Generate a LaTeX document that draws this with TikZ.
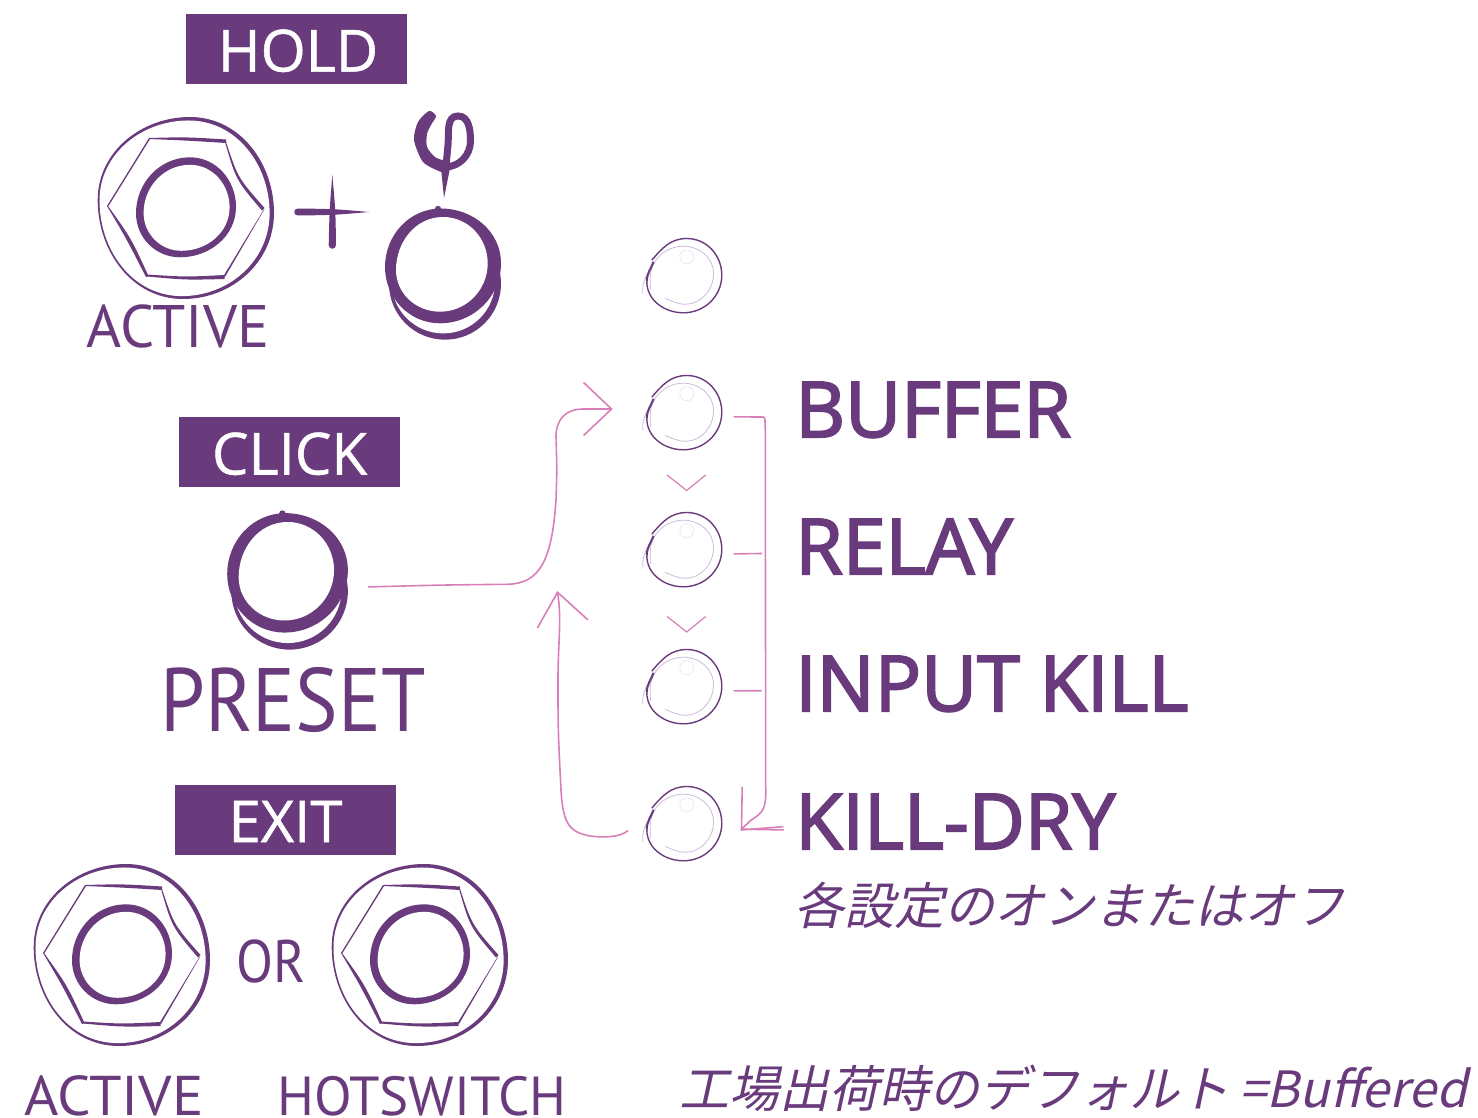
\documentclass[tikz,border=0pt]{standalone}
\usepackage{fontspec}
\setmainfont{Open Sans}
\newfontfamily\titlefont[FakeBold=0.9]{Open Sans}
\newfontfamily\labelfont[FakeBold=2.6]{Open Sans}
\newfontfamily\cjkfont[FakeSlant=0.22]{Noto Sans CJK JP}
\newfontfamily\sketchfont{PT Sans}
\usetikzlibrary{arrows.meta}

\definecolor{inkpurple}{HTML}{693B7C}
\definecolor{linkpink}{HTML}{D97FB8}
\definecolor{paleink}{HTML}{CDBBD9}
\definecolor{glint}{HTML}{EAE6EF}

% closed loop through its top, right, bottom and left points
\newcommand{\blobpath}[4]{(#1) to[out=0,in=90] (#2) to[out=-90,in=0] (#3) to[out=180,in=-90] (#4) to[out=90,in=180] (#1)}

\tikzset{
	titlebox/.style={fill=inkpurple,text=white,minimum width=221pt,minimum height=70pt,inner sep=0pt,text depth=0pt,font=\titlefont\fontsize{58}{58}\selectfont},
	ledlabel/.style={text=inkpurple,anchor=base west,inner sep=0pt,font=\labelfont\fontsize{77}{77}\selectfont},
	jplabel/.style={text=inkpurple,anchor=base west,inner sep=0pt,font=\cjkfont\fontsize{50}{50}\selectfont},
	sketchlabel/.style={text=inkpurple,anchor=base,inner sep=0pt},
	linkline/.style={draw=linkpink,line width=1.6pt},
	nuthex/.pic={
		\fill[inkpurple] \blobpath{4,-91}{88,5}{-3,91}{-88.3,-8};
		\fill[white,shift={(-1.3,0.3)},scale=0.965] \blobpath{4,-91}{88,5}{-3,91}{-88.3,-8};
		\fill[inkpurple] \blobpath{4,-50.7}{50,-1.3}{-6,49.3}{-50,5.3};
		\fill[white,shift={(0.6,0.4)},scale=0.86] \blobpath{4,-50.7}{50,-1.3}{-6,49.3}{-50,5.3};
		\fill[inkpurple] (-37,-70) .. controls (0,-71) .. (40,-68.5) -- (40,-65) .. controls (0,-67.5) .. (-37,-69) -- cycle;
		\fill[inkpurple] (40,-66) .. controls (52,-30) .. (78.5,0) -- (76,2.5) .. controls (50,-28) .. (39,-66) -- cycle;
		\fill[inkpurple] (78,2) -- (39,69) -- (37.5,68) -- (77.5,2) -- cycle;
		\fill[inkpurple] (38.5,67) .. controls (0,69) .. (-39,66.5) -- (-39,68.5) .. controls (0,72) .. (38.5,71) -- cycle;
		\fill[inkpurple] (-79,-2) .. controls (-60,30) .. (-40,69) -- (-37.5,68) .. controls (-55,30) .. (-78,-2) -- cycle;
		\fill[inkpurple] (-79,-2) -- (-37,-70) -- (-36,-69) -- (-77.5,-2) -- cycle;
	},
	knobring/.pic={
		\fill[inkpurple] (3,16.7) circle (56);
		\fill[white] (1.3,14.7) circle (51.7);
		\fill[inkpurple] \blobpath{-1,-58.5}{59,-3.7}{-2,56.3}{-57,0};
		\fill[inkpurple] (-4,-58) circle (3.2);
		\fill[white] \blobpath{1,-50}{45.7,-3.7}{-2,44.7}{-46,3};
	},
	ledring/.pic={
		\draw[glint,line width=0.7pt] (3.3,-18.7) circle (7);
		\draw[paleink,line width=0.8pt] (-18.3,23) to[out=-20,in=180] (1.7,28.7) to[out=0,in=-90] (30,-2) to[out=90,in=0] (0,-29.3) to[out=180,in=90] (-33.3,3) to[out=-90,in=100] (-32.7,14.7);
		\draw[paleink,line width=0.8pt] (-40.7,18) to[out=95,in=-115] (-30,-13.7);
		\draw[inkpurple,line width=2pt] (-30,-13.7) to[out=-110,in=90] (-36.7,6);
		\draw[inkpurple,line width=1.4pt] (-36.7,6) to[out=-90,in=180] (0,37.3) to[out=0,in=-90] (38.3,-0.3) to[out=90,in=0] (3.3,-37) to[out=180,in=50] (-31.7,-15.3);
	}
}

\begin{document}
\begin{tikzpicture}[x=1pt,y=-1pt]
	\useasboundingbox (0,0) rectangle (1478,1118);

	\node (holdbox) [titlebox] at (296.5,49) {\hspace{3pt}\raisebox{-3pt}{HOLD}};
	\node (clickbox) [titlebox] at (289.5,452) {\raisebox{-3pt}{CLICK}};
	\node (exitbox) [titlebox] at (285.5,820) {\raisebox{-3pt}{EXIT}};

	\pic at (186,208) {nuthex};
	\pic at (122,955) {nuthex};
	\pic at (420,955) {nuthex};
	\pic at (442,267) {knobring};
	\node (btnpreset) [circle,inner sep=0pt,minimum size=165pt] at (286.5,574) {};
	\pic[scale=1.04] at (btnpreset) {knobring};

	% plus
	\fill[inkpurple] (369,212) .. controls (335,209) .. (298,208.5) .. controls (293,208.5) and (293,215.5) .. (298,215.5) .. controls (335,215) .. (369,212) -- cycle;
	\fill[inkpurple] (332.3,175) .. controls (329.5,210) .. (328.7,245) .. controls (328.7,250) and (336,250) .. (336,245) .. controls (335.5,210) .. (332.3,175) -- cycle;

	% phase sign
	\fill[inkpurple] plot[smooth cycle,tension=0.45] coordinates {(436,116) (429,111) (418,122) (414,140) (423,162) (440,171.5) (447,172) (447,162.5) (435,157) (427,147) (427,134) (431,125)};
	\draw[inkpurple,line width=7pt] (445,167) to[out=0,in=-90] (470.5,141) to[out=90,in=0] (458,116) to[out=180,in=85] (448,145) -- (446,166);
	\fill[inkpurple] (441,168) -- (450,168) -- (444,198) -- cycle;

	\node (activetop) [sketchlabel,xscale=1,font=\sketchfont\fontsize{60}{60}\selectfont] at (178,347) {ACTIVE};
	\node (presetlabel) [sketchlabel,xscale=0.89,font=\sketchfont\fontsize{90}{90}\selectfont] at (293,731) {PRESET};
	\node (orlabel) [sketchlabel,xscale=0.9,font=\sketchfont\fontsize{60}{60}\selectfont] at (271,982) {OR};
	\node (activebottom) [sketchlabel,xscale=1.05,font=\sketchfont\fontsize{56}{56}\selectfont] at (114,1115) {ACTIVE};
	\node (hotlabel) [sketchlabel,xscale=1.0,font=\sketchfont\fontsize{55}{55}\selectfont] at (422,1115) {HOTSWITCH};

	\foreach \led/\ypos in {ledtop/275.5,ledbuffer/412.5,ledrelay/549.5,ledinput/686.5,ledkill/823.5}{
		\node (\led) [circle,inner sep=0pt,minimum size=100pt] at (683.5,\ypos) {};
		\pic at (\led) {ledring};
	}

	\node (bufferlabel) [ledlabel] at (795,437) {BUFFER};
	\node (relaylabel) [ledlabel] at (795,574) {\addfontfeature{Kerning=Off}RELAY};
	\node (inputlabel) [ledlabel] at (795,711) {INPUT KILL};
	\node (killlabel) [ledlabel] at (795,849) {KILL-DRY};
	\node (onofflabel) [jplabel] at (794,924) {各設定のオンまたはオフ};
	\node (defaultlabel) [jplabel] at (679,1107) {工場出荷時のデフォルト\hspace{10pt}=Buffered};

	\coordinate (buffertip) at (612.7,409);
	\coordinate (backtip) at (557.3,591);
	\coordinate (killout) at (628,830.7);
	\coordinate (killtip) at (740.7,830);
	\coordinate (killtail) at (783.3,826.7);
	\coordinate (relaytee) at (762,553.5);
	\coordinate (inputtee) at (761.7,690.7);

	\draw[linkline,-{Straight Barb[length=28pt,width=53pt,quick]}] (btnpreset.-9) .. controls (440,585) .. (506.7,584.3) .. controls (540,584) and (552,560) .. (556,500) .. controls (557,470) .. (556,436.7) .. controls (556,420) and (565,409) .. (583.3,409) -- (buffertip);
	\draw[linkline,-{Straight Barb[length=32pt,width=51pt,quick]}] (killout) .. controls (620,837) and (605,838) .. (590,836) .. controls (570,832) and (563,825) .. (561,790) .. controls (558,730) .. (558,680) .. controls (558,640) and (562,620) .. (backtip);
	\draw[linkline,-{Straight Barb[length=30pt,width=60pt,quick]}] (ledbuffer.-5) -- (762.5,417) .. controls (765,417) .. (765.3,430) -- (765.7,796) .. controls (765,812) and (760,814) .. (750,821) -- (killtip);
	\draw[linkline] (ledrelay.-5) -- (relaytee);
	\draw[linkline] (ledinput.-5) -- (inputtee);
	\draw[linkline] (killtip) -- (killtail);

	\foreach \ypos in {475,616.5}{
		\draw[linkline,line width=1.2pt] (667,\ypos) -- (686.7,\ypos+15.5) -- (705.7,\ypos);
	}
\end{tikzpicture}
\end{document}
